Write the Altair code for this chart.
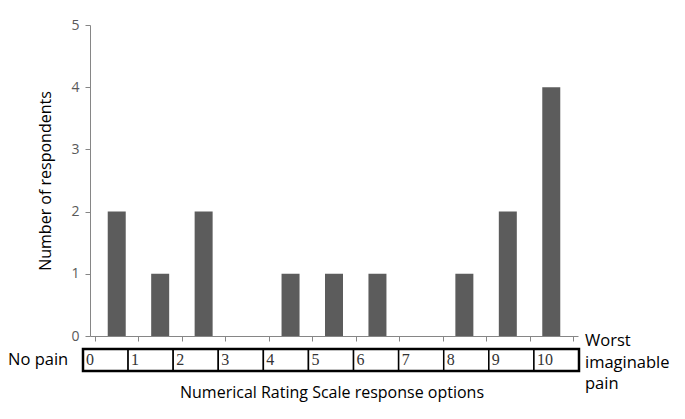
import altair as alt
import pandas as pd

options = list(range(11))
counts = [2, 1, 2, 0, 1, 1, 1, 0, 1, 2, 4]
box_labels = [str(i) for i in options]

bars_df = pd.DataFrame({"option": options, "count": counts})
boxes_df = pd.DataFrame({"option": options, "label": box_labels})

FONT = "Open Sans"
GRAY = "#868686"

bars = alt.Chart(bars_df).transform_calculate(
    center="datum.option + 0.5"
).mark_bar(color="#5c5c5c", size=18).encode(
    x=alt.X("center:Q", scale=alt.Scale(domain=[0, 11], nice=False),
            axis=alt.Axis(values=list(range(12)), labels=False, ticks=True, tickSize=5,
                          tickColor=GRAY, domainColor=GRAY, grid=False, title=None)),
    y=alt.Y("count:Q", scale=alt.Scale(domain=[0, 5], nice=False),
            axis=alt.Axis(values=[0, 1, 2, 3, 4, 5], tickSize=5, tickColor=GRAY,
                          domainColor=GRAY, grid=False, labelColor="#595959",
                          labelFontSize=14, labelFont=FONT, labelPadding=6,
                          title="Number of respondents", titleFont=FONT,
                          titleFontSize=16, titleFontWeight="normal",
                          titleColor="black", titlePadding=17)),
)

box_scale = alt.Scale(domain=[0, 11], range=[-7, 489], nice=False)

boxes = alt.Chart(boxes_df).transform_calculate(
    right="datum.option + 1"
).mark_rect(fill="white", stroke="black", strokeWidth=1.5).encode(
    x=alt.X("option:Q", scale=box_scale, axis=None),
    x2="right:Q",
    y=alt.value(324),
    y2=alt.value(346),
)

frame = alt.Chart(boxes_df).transform_aggregate(
    lo="min(option)", hi="max(option)"
).transform_calculate(hi1="datum.hi + 1").mark_rect(
    fill="transparent", stroke="black", strokeWidth=2.5
).encode(
    x=alt.X("lo:Q", scale=box_scale, axis=None),
    x2="hi1:Q",
    y=alt.value(324),
    y2=alt.value(346),
)

box_text = alt.Chart(boxes_df).mark_text(
    align="left", baseline="middle", font="Liberation Serif", fontSize=16,
    color="#333333", dx=3
).encode(
    x=alt.X("option:Q", scale=box_scale, axis=None),
    y=alt.value(335),
    text="label:N",
)

no_pain = alt.Chart(pd.DataFrame({"t": ["No pain"]})).mark_text(
    align="left", baseline="middle", font=FONT, fontSize=16.5, color="black"
).encode(x=alt.value(-82), y=alt.value(335), text="t:N")

worst = alt.Chart(pd.DataFrame({"t": ["Worst\nimaginable\npain"]})).mark_text(
    align="left", baseline="middle", font=FONT, fontSize=16.5, color="black",
    lineBreak="\n", lineHeight=21.5
).encode(x=alt.value(495), y=alt.value(316), text="t:N")

x_title = alt.Chart(pd.DataFrame({"t": ["Numerical Rating Scale response options"]})).mark_text(
    align="center", baseline="middle", font=FONT, fontSize=16, color="black"
).encode(x=alt.value(242), y=alt.value(368), text="t:N")

chart = alt.layer(bars, boxes, frame, box_text, no_pain, worst, x_title).resolve_scale(
    x="independent"
).properties(
    width=488, height=311,
    background="white",
    autosize=alt.AutoSizeParams(type="none"),
    padding={"left": 82, "top": 17, "right": 99, "bottom": 75},
).configure_view(strokeWidth=0, stroke="transparent")

chart.save("out.html", embed_options={"renderer": "svg", "actions": False})
